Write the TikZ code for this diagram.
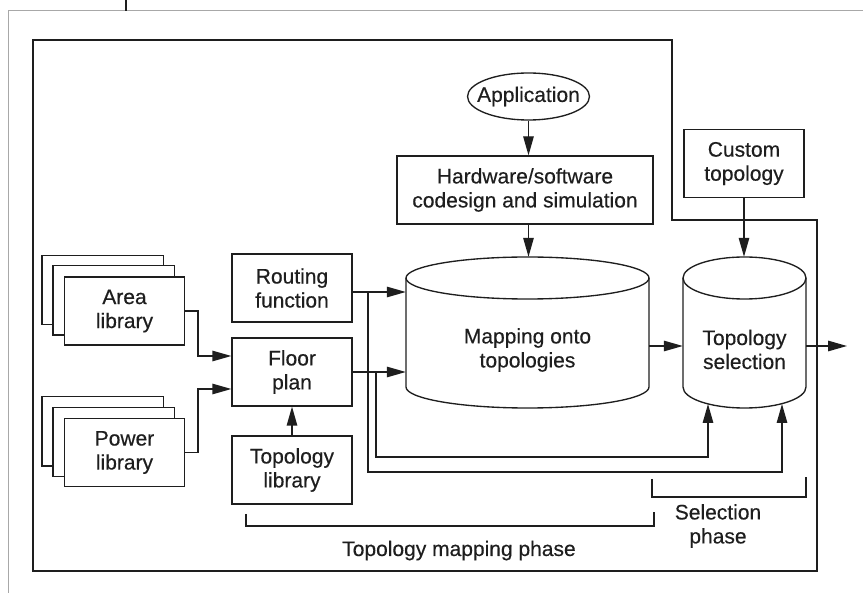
\documentclass[tikz,border=0pt]{standalone}
\usepackage{fontspec}
\setmainfont{Liberation Sans}[FakeBold=0.35]
\usetikzlibrary{arrows.meta,shapes.geometric,calc}
\pgfdeclarelayer{background}
\pgfsetlayers{background,main}
\definecolor{ink}{HTML}{1E1E1E}
\definecolor{pagegray}{HTML}{A8A8A8}
\begin{document}
\begin{tikzpicture}[x=1pt,y=-1pt,
  every node/.style={font=\fontsize{21}{24}\selectfont, text=ink},
  box/.style={draw=ink, line width=1.35pt, fill=white, minimum width=120pt, minimum height=68pt, align=center, inner sep=0pt},
  sheet/.style={draw=ink, line width=1.35pt, fill=white},
  conn/.style={draw=ink, line width=1.35pt},
  arr/.style={conn, -{Triangle[length=19pt,width=10.5pt]}},
  frameline/.style={draw=ink, line width=1.5pt},
  hold/.style={draw=none, inner sep=0pt}
]
\useasboundingbox (0,0) rectangle (863,593);
% page edge
\draw[pagegray, line width=1pt] (8,593) -- (8,11) -- (863,11);
\draw[ink, line width=1.3pt] (126,0) -- (126,11);
% outer frame
\draw[frameline] (33,40) -- (672,40) -- (672,220) -- (817,220) -- (817,571) -- (33,571) -- cycle;

% nodes
\node[ellipse, draw=ink, line width=1.35pt, minimum width=122pt, minimum height=47pt, inner sep=0pt] (app) at (528.5,96.5) {\makebox[0pt]{Application}};
\node[box, minimum width=256pt] (hw) at (525,190) {Hardware/software\\codesign and simulation};
\node[box] (custom) at (744,163.5) {Custom\\topology};
\node[box] (routing) at (292,288) {Routing\\function};
\node[box] (floor) at (292,372) {Floor\\plan};
\node[box] (toplib) at (292,470) {Topology\\library};
\node[box] (area) at (124.5,311) {Area\\library};
\node[box] (power) at (124.5,452.5) {Power\\library};

\begin{pgfonlayer}{background}
\foreach \n in {area,power}{
  \draw[sheet] ([shift={(-22pt,21pt)}]\n.south west) rectangle ([shift={(-22pt,21pt)}]\n.north east);
  \draw[sheet] ([shift={(-11pt,10.5pt)}]\n.south west) rectangle ([shift={(-11pt,10.5pt)}]\n.north east);
}
\end{pgfonlayer}

% cylinders (holder nodes + drawn outlines)
\node[hold, minimum width=243pt, minimum height=151pt] (map) at (527.5,332.5) {};
\draw[conn] (406,278) -- (406,387) arc[start angle=180,end angle=360,x radius=121.5pt,y radius=21pt] -- (649,278);
\draw[conn] (527.5,278) ellipse [x radius=121.5pt, y radius=21pt];
\node[align=center] (maptext) at (527.5,350) {Mapping onto\\topologies};

\node[hold, minimum width=123pt, minimum height=151pt] (sel) at (744.5,332.5) {};
\draw[conn] (683,278) -- (683,387) arc[start angle=180,end angle=360,x radius=61.5pt,y radius=21pt] -- (806,278);
\draw[conn] (744.5,278) ellipse [x radius=61.5pt, y radius=21pt];
\node[align=center] (seltext) at (744.5,349.5) {Topology\\selection};

% connectors
\draw[arr] (app.south) -- (app.south |- hw.north);
\draw[arr] (app.south |- hw.south) -- (app.south |- map.north);
\draw[arr] (custom.south) -- (custom.south |- sel.north);
\coordinate (ylev) at (0,346);
\draw[arr] (map.east |- ylev) -- (sel.west |- ylev);
\coordinate (out) at (847,346);
\draw[arr] (sel.east |- ylev) -- (out);

\coordinate (rl) at ([yshift=-4pt]routing.east);
\draw[arr] (rl) -- (rl -| map.west);
\draw[arr] (floor.east) -- (floor.east -| map.west);

\coordinate (xr) at (368,0);
\coordinate (xf) at (376,0);
\coordinate (yr) at (0,472);
\coordinate (yf) at (0,457);
\coordinate (sb1) at (708,404);
\coordinate (sb2) at (782,404);
\draw[arr] (xr |- rl) |- (sb2 |- yr) -- (sb2);
\draw[arr] (xf |- floor.east) |- (sb1 |- yf) -- (sb1);

\coordinate (ax) at (198,0);
\coordinate (fa) at ([yshift=16pt]floor.west);
\coordinate (fp) at ([yshift=-17pt]floor.west);
\draw[arr] (area.east) -| (ax |- fa) -- (fa);
\draw[arr] (power.east) -| (ax |- fp) -- (fp);
\draw[arr] (toplib.north) -- (floor.south);

% phase brackets
\draw[conn] (246,514) -- (246,526) -- (654,526) -- (654,512);
\node[anchor=base] (mapphase) at (459,556) {Topology mapping phase};
\draw[conn] (652,479) -- (652,497) -- (806,497) -- (806,477);
\node[align=center] (selphase) at (718,526) {Selection\\phase};
\end{tikzpicture}
\end{document}
